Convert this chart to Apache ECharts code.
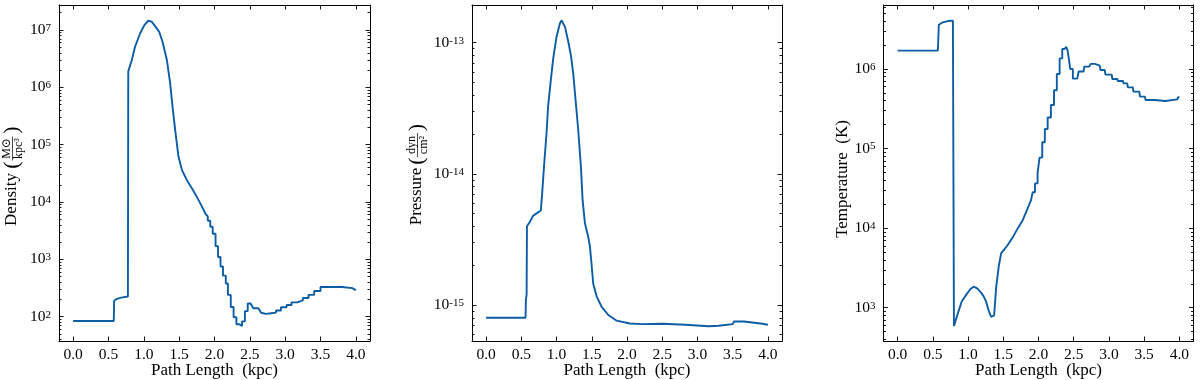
<!DOCTYPE html>
<html>
<head>
<meta charset="utf-8">
<script src="https://cdn.jsdelivr.net/npm/echarts@6/dist/echarts.min.js"></script>
<style>
  html, body { margin: 0; padding: 0; background: #fff; }
  #chart { width: 1200px; height: 380px; }
</style>
</head>
<body>
<div id="chart"></div>
<script>
const FONT = "'Liberation Serif', 'DejaVu Serif', 'Times New Roman', serif";
const LINE_COLOR = "#0C5DA5";
const INK = "#000";

// shared x ticks (kpc)
const xTicks = [0, 0.5, 1, 1.5, 2, 2.5, 3, 3.5, 4];

// density (Msun / kpc^3)
const densityX = [
  0.00, 0.575, 0.58, 0.62, 0.68, 0.775, 0.78, 0.83, 0.876, 0.947,
  1.01, 1.065, 1.11, 1.16, 1.217, 1.264, 1.326, 1.373, 1.406, 1.444,
  1.49, 1.54, 1.61, 1.68, 1.75, 1.823, 1.87, 1.905, 1.905, 1.94,
  1.94, 1.975, 1.975, 2.015, 2.015, 2.05, 2.05, 2.085, 2.085, 2.12,
  2.12, 2.16, 2.16, 2.19, 2.19, 2.23, 2.23, 2.27, 2.27, 2.31,
  2.31, 2.35, 2.35, 2.39, 2.39, 2.43, 2.43, 2.47, 2.47, 2.51,
  2.53, 2.55, 2.62, 2.63, 2.66, 2.73, 2.80, 2.87, 2.87, 2.94,
  2.94, 3.02, 3.02, 3.09, 3.09, 3.17, 3.17, 3.25, 3.25, 3.33,
  3.33, 3.41, 3.41, 3.50, 3.50, 3.80, 3.82, 3.95, 4.00
];
const densityY = [
  84, 84, 190, 205, 215, 225, 1.9e6, 3.0e6, 5.1e6, 8.7e6,
  1.23e7, 1.45e7, 1.40e7, 1.17e7, 9.3e6, 6.3e6, 3.0e6, 1.17e6, 4.6e5, 1.8e5,
  6.2e4, 3.6e4, 2.4e4, 1.74e4, 1.23e4, 8.3e3, 6.3e3, 5.6e3, 4.7e3, 4.7e3,
  3.7e3, 3.7e3, 2.8e3, 2.8e3, 1.7e3, 1.7e3, 1.1e3, 1.1e3, 750, 750,
  520, 520, 380, 380, 240, 240, 148, 148, 98, 98,
  74, 74, 69, 69, 83, 83, 125, 125, 170, 170,
  160, 140, 140, 132, 117, 112, 115, 118, 128, 128,
  146, 146, 160, 160, 178, 178, 192, 192, 212, 212,
  240, 240, 280, 280, 330, 330, 320, 315, 290
];

// pressure (dyn / cm^2)
const pressureX = [
  0.00, 0.56, 0.565, 0.575, 0.58, 0.62, 0.668, 0.716, 0.777, 0.796,
  0.825, 0.858, 0.88, 0.919, 0.953, 1.00, 1.047, 1.07, 1.12, 1.166,
  1.204, 1.237, 1.27, 1.308, 1.346, 1.37, 1.403, 1.45, 1.474, 1.50,
  1.52, 1.57, 1.64, 1.735, 1.853, 2.04, 2.21, 2.50, 2.83, 3.16,
  3.30, 3.50, 3.52, 3.66, 3.68, 3.92, 4.00
];
const pressureY = [
  8.0e-16, 8.0e-16, 1.1e-15, 1.2e-15, 3.98e-15, 4.3e-15, 4.8e-15, 5.0e-15, 5.25e-15, 7.1e-15,
  1.2e-14, 2.04e-14, 3.25e-14, 5.2e-14, 7.6e-14, 1.11e-13, 1.40e-13, 1.48e-13, 1.32e-13, 1.02e-13,
  8.0e-14, 5.8e-14, 3.65e-14, 2.16e-14, 1.13e-14, 6.3e-15, 4.2e-15, 3.3e-15, 2.79e-15, 1.96e-15,
  1.46e-15, 1.16e-15, 9.7e-16, 8.4e-16, 7.6e-16, 7.24e-16, 7.16e-16, 7.2e-16, 7.08e-16, 6.9e-16,
  6.95e-16, 7.16e-16, 7.5e-16, 7.5e-16, 7.25e-16, 7.2e-16, 7.08e-16
];

// temperature (K)
const tempX = [
  0.00, 0.57, 0.575, 0.585, 0.60, 0.642, 0.713, 0.785, 0.80, 0.855,
  0.91, 0.973, 1.034, 1.08, 1.13, 1.185, 1.22, 1.257, 1.29, 1.327,
  1.35, 1.37, 1.40, 1.435, 1.469, 1.506, 1.563, 1.634, 1.705, 1.776,
  1.846, 1.894, 1.917, 1.95, 1.95, 1.987, 1.987, 2.015, 2.015, 2.053,
  2.053, 2.09, 2.09, 2.13, 2.13, 2.176, 2.176, 2.22, 2.22, 2.26,
  2.26, 2.30, 2.30, 2.337, 2.337, 2.37, 2.393, 2.41, 2.43, 2.45,
  2.488, 2.488, 2.55, 2.57, 2.64, 2.65, 2.72, 2.74, 2.80, 2.81,
  2.87, 2.88, 2.94, 2.95, 3.04, 3.047, 3.12, 3.125, 3.20, 3.205,
  3.26, 3.267, 3.34, 3.346, 3.43, 3.441, 3.51, 3.52, 3.65, 3.66,
  3.80, 3.82, 3.97, 3.98, 4.00
];
const tempY = [
  1.7e6, 1.7e6, 2.0e6, 3.6e6, 3.7e6, 3.86e6, 4.0e6, 4.05e6, 590, 850,
  1200, 1450, 1720, 1840, 1750, 1550, 1400, 1190, 935, 770,
  740, 800, 1840, 3270, 4820, 5300, 6140, 7660, 9930, 1.26e4,
  1.77e4, 2.25e4, 2.82e4, 2.82e4, 3.65e4, 3.65e4, 4.9e4, 4.9e4, 7.7e4, 7.7e4,
  1.2e5, 1.2e5, 1.76e5, 1.76e5, 2.46e5, 2.46e5, 3.52e5, 3.52e5, 5.4e5, 5.4e5,
  8.65e5, 8.65e5, 1.36e6, 1.36e6, 1.78e6, 1.78e6, 1.9e6, 1.75e6, 1.36e6, 1.0e6,
  1.0e6, 7.56e5, 7.56e5, 9.3e5, 9.3e5, 1.07e6, 1.07e6, 1.16e6, 1.16e6, 1.1e6,
  1.1e6, 9.7e5, 9.7e5, 8.5e5, 8.5e5, 7.5e5, 7.5e5, 7.07e5, 7.07e5, 6.6e5,
  6.6e5, 5.88e5, 5.88e5, 5.19e5, 5.19e5, 4.49e5, 4.49e5, 4.08e5, 4.08e5, 3.96e5,
  3.96e5, 4.15e5, 4.15e5, 4.4e5, 4.45e5
];

// log decade tick labels per panel
const densityDecades = [2, 3, 4, 5, 6, 7];
const pressureDecades = [-15, -14, -13];
const tempDecades = [3, 4, 5, 6];

const panels = [
  { left: 59, width: 311, yMin: Math.pow(10, 1.576), yMax: Math.pow(10, 7.436), decades: densityDecades, x: densityX, y: densityY },
  { left: 472, width: 310, yMin: Math.pow(10, -15.274), yMax: Math.pow(10, -12.713), decades: pressureDecades, x: pressureX, y: pressureY },
  { left: 883.5, width: 310, yMin: Math.pow(10, 2.582), yMax: Math.pow(10, 6.804), decades: tempDecades, x: tempX, y: tempY },
];

function minorValues(min, max) {
  const out = [];
  for (let n = Math.floor(Math.log10(min)); n <= Math.ceil(Math.log10(max)); n++) {
    for (let k = 2; k <= 9; k++) {
      const v = k * Math.pow(10, n);
      if (v > min && v < max) out.push(v);
    }
  }
  return out;
}

const grid = [];
const xAxis = [];
const yAxis = [];
const series = [];

panels.forEach((p, i) => {
  grid.push({ left: p.left, top: 5, width: p.width, height: 336, outerBoundsMode: "none" });
  const majors = p.decades.map((d) => Math.pow(10, d));
  const minors = minorValues(p.yMin, p.yMax);
  const tickStyle = { color: INK, width: 0.9 };

  xAxis.push({
    type: "value", gridIndex: i, position: "bottom", min: -0.2, max: 4.2,
    axisLine: { show: true, onZero: false, lineStyle: { color: INK, width: 1 } },
    axisTick: { show: true, inside: true, length: 4.5, customValues: xTicks, lineStyle: tickStyle },
    axisLabel: {
      customValues: xTicks, margin: 6, color: INK, fontSize: 15.5, fontFamily: FONT,
      formatter: (v) => v.toFixed(1),
    },
    splitLine: { show: false },
    name: "Path Length  (kpc)", nameLocation: "middle", nameGap: 21, nameMoveOverlap: false,
    nameTextStyle: { color: INK, fontSize: 17, fontFamily: FONT },
  });
  xAxis.push({
    type: "value", gridIndex: i, position: "top", min: -0.2, max: 4.2,
    axisLine: { show: true, onZero: false, lineStyle: { color: INK, width: 1 } },
    axisTick: { show: true, inside: true, length: 4.5, customValues: xTicks, lineStyle: tickStyle },
    axisLabel: { show: false },
    splitLine: { show: false },
  });

  const logBase = { type: "log", logBase: 10, gridIndex: i, min: p.yMin, max: p.yMax, splitLine: { show: false } };
  yAxis.push({
    ...logBase, position: "left",
    axisLine: { show: true, onZero: false, lineStyle: { color: INK, width: 1 } },
    axisTick: { show: true, inside: true, length: 4.5, customValues: majors, lineStyle: tickStyle },
    axisLabel: {
      customValues: majors, margin: 8, color: INK,
      formatter: (v) => "{b|10}{s|" + Math.round(Math.log10(v)) + "}",
      rich: {
        b: { fontSize: 15.5, fontFamily: FONT, color: INK, lineHeight: 15, padding: [4, 0, 4, 0] },
        s: { fontSize: 11, fontFamily: FONT, color: INK, lineHeight: 11, verticalAlign: "top" },
      },
    },
  });
  yAxis.push({
    ...logBase, position: "left",
    axisLine: { show: false, onZero: false },
    axisTick: { show: true, inside: true, length: 2.5, customValues: minors, lineStyle: tickStyle },
    axisLabel: { show: false },
  });
  yAxis.push({
    ...logBase, position: "right",
    axisLine: { show: true, onZero: false, lineStyle: { color: INK, width: 1 } },
    axisTick: { show: true, inside: true, length: 4.5, customValues: majors, lineStyle: tickStyle },
    axisLabel: { show: false },
  });
  yAxis.push({
    ...logBase, position: "right",
    axisLine: { show: false, onZero: false },
    axisTick: { show: true, inside: true, length: 2.5, customValues: minors, lineStyle: tickStyle },
    axisLabel: { show: false },
  });

  series.push({
    type: "line", xAxisIndex: 2 * i, yAxisIndex: 4 * i,
    data: p.x.map((x, j) => [x, p.y[j]]),
    showSymbol: false, symbol: "none", silent: true,
    lineStyle: { color: LINE_COLOR, width: 1.9 },
  });
});

function txt(text, x, y, size) {
  return {
    type: "text", x, y,
    style: { text, fontSize: size, fontFamily: FONT, fill: INK, align: "center", verticalAlign: "middle" },
  };
}

// rotated y title with a stacked unit fraction in parentheses
function fractionTitle(cx, cy, word, wordX, num, den, fracX, parenL, parenR) {
  return {
    type: "group", x: cx, y: cy, rotation: Math.PI / 2,
    children: [
      txt(word, wordX, 0, 17),
      txt("(", parenL, 0.5, 22),
      txt(num, fracX, -5.5, 12),
      { type: "line", shape: { x1: fracX - 12, y1: 0.5, x2: fracX + 12, y2: 0.5 }, style: { stroke: INK, lineWidth: 0.7 } },
      txt(den, fracX, 6.5, 12),
      txt(")", parenR, 0.5, 22),
    ],
  };
}

const graphic = [
  fractionTitle(12, 173.5, "Density", -26, "M\u2299", "kpc\u00b3", 25, 8.5, 43.5),
  fractionTitle(417, 174, "Pressure", -22.5, "dyn", "cm\u00b2", 29, 13, 46.5),
  {
    type: "text", x: 843, y: 179, rotation: Math.PI / 2,
    style: { text: "Temperature  (K)", fontSize: 17, fontFamily: FONT, fill: INK, align: "center", verticalAlign: "middle" },
  },
];

const chart = echarts.init(document.getElementById("chart"), null, { renderer: "canvas" });
chart.setOption({
  animation: false,
  backgroundColor: "#ffffff",
  grid, xAxis, yAxis, series, graphic,
});
</script>
</body>
</html>
